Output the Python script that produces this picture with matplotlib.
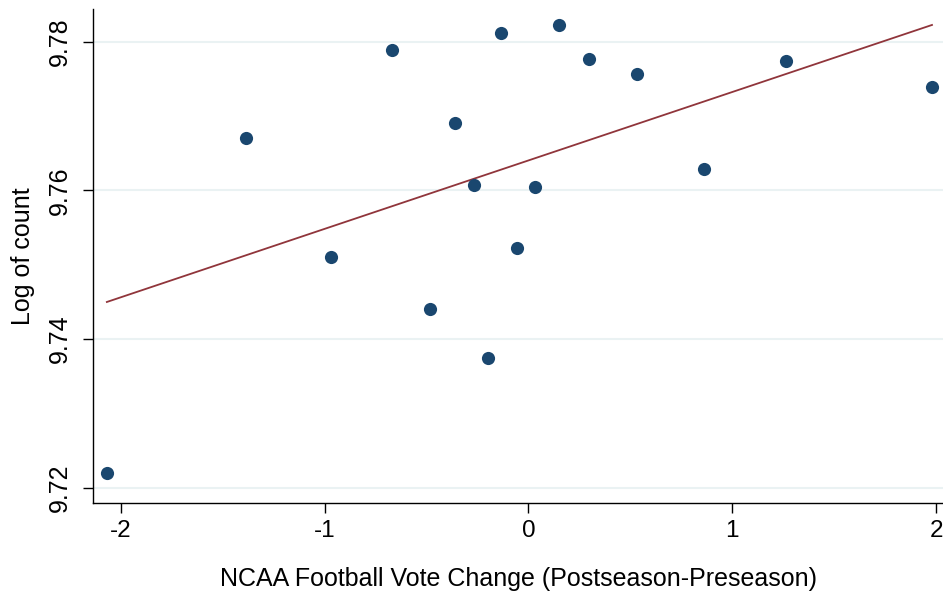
import numpy as np
import matplotlib
matplotlib.use("Agg")
import matplotlib.pyplot as plt

plt.rcParams["font.family"] = ["Liberation Sans", "DejaVu Sans"]

# vote change vs log of count
vote_change = [-2.069, -1.386, -0.971, -0.671, -0.482, -0.359, -0.265, -0.197,
               -0.133, -0.054, 0.034, 0.152, 0.295, 0.531, 0.860, 1.263, 1.980]
log_count = [9.7220, 9.7670, 9.7510, 9.7789, 9.7440, 9.7691, 9.7607, 9.7374,
             9.7811, 9.7522, 9.7604, 9.7822, 9.7776, 9.7756, 9.7628, 9.7774, 9.7739]

# fitted line as drawn in the reference
fit_slope = 0.009195
fit_intercept = 9.76402

x_ticks = [-2, -1, 0, 1, 2]
y_ticks = [9.72, 9.74, 9.76, 9.78]

x = np.array(vote_change)
y = np.array(log_count)
xs = np.array([x.min(), x.max()])

fig = plt.figure(figsize=(9.43, 5.92), dpi=100)
ax = fig.add_axes([93 / 943, 1 - 503 / 592, 850 / 943, 494 / 592])

for yt in y_ticks:
    ax.axhline(yt, color="#eaf2f3", lw=1.5, zorder=0)

ax.scatter(x, y, s=90, color="#1a476f", zorder=3, linewidths=0)
ax.plot(xs, fit_intercept + fit_slope * xs, color="#90353b", lw=1.3, zorder=2)

ax.set_xlim(-2.137, 2.034)
ax.set_ylim(9.71798, 9.78437)
ax.set_xticks(x_ticks)
ax.set_xticklabels([str(t) for t in x_ticks])
ax.set_yticks(y_ticks)
ax.set_yticklabels([f"{t:.2f}" for t in y_ticks], rotation=90, va="center")

for side in ("top", "right"):
    ax.spines[side].set_visible(False)
for side in ("left", "bottom"):
    ax.spines[side].set_linewidth(1.0)
    ax.spines[side].set_color("black")

ax.tick_params(axis="x", labelsize=17.5, length=7.2, width=1, pad=5)
ax.tick_params(axis="y", labelsize=18, length=7.2, width=1, pad=8)
ax.set_xlabel("NCAA Football Vote Change (Postseason-Preseason)", fontsize=18, labelpad=18)
ax.set_ylabel("Log of count", fontsize=18, labelpad=9)

fig.savefig("out.png", dpi=100)
